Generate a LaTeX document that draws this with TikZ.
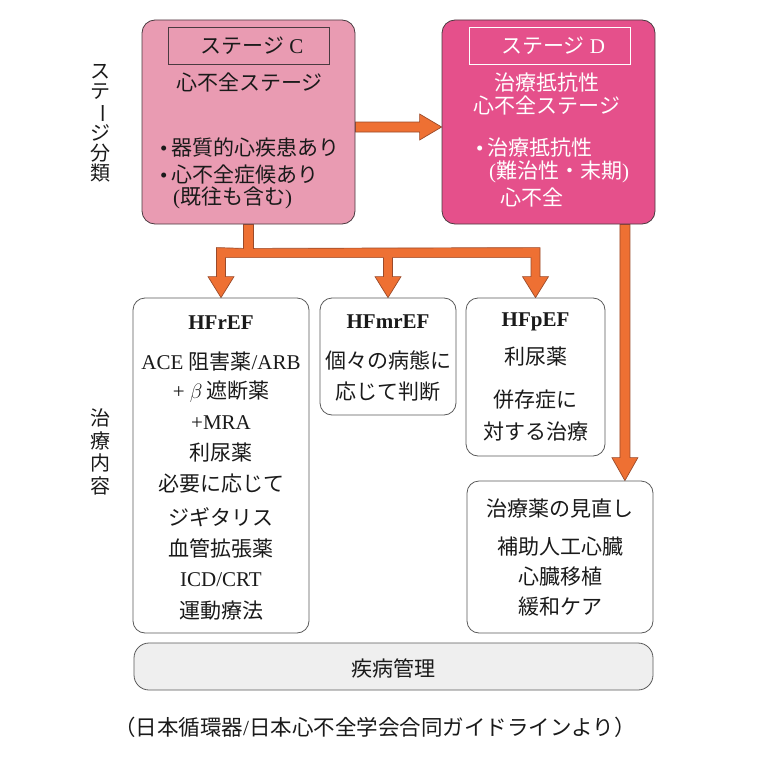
\documentclass[tikz,border=0pt]{standalone}
\usepackage{fontspec}
\setmainfont{Liberation Serif}
\newfontfamily\jp{Noto Sans CJK JP}
\usetikzlibrary{calc}
\definecolor{cpink}{HTML}{E99BB2}
\definecolor{dpink}{HTML}{E5508B}
\definecolor{orng}{HTML}{EE7033}
\definecolor{oline}{HTML}{9A4A2A}
\definecolor{boxline}{HTML}{5A5A5A}
\definecolor{topline}{HTML}{4A3A40}
\definecolor{mgray}{HTML}{EFEFEF}
\definecolor{txtc}{HTML}{1A1A1A}
\pgfdeclarelayer{bg}
\pgfsetlayers{bg,main}
\begin{document}
\begin{tikzpicture}[x=1pt,y=-1pt,
  topbox/.style={draw=topline, line width=0.8pt, rounded corners=13pt, inner sep=0pt},
  hfbox/.style={draw=boxline, fill=white, line width=0.8pt, rounded corners=12pt, inner sep=0pt},
  lblbox/.style={line width=0.8pt, inner sep=0pt, minimum width=161, minimum height=37},
  txt/.style={font=\jp\fontsize{21}{23}\selectfont, text=txtc, inner sep=0pt},
  wtxt/.style={font=\jp\fontsize{21}{23}\selectfont, text=white, inner sep=0pt},
  vtxt/.style={font=\jp\fontsize{20}{20}\selectfont, text=txtc, inner sep=0pt, align=center},
  hf/.style={font=\rmfamily\bfseries\fontsize{21}{23}\selectfont, text=txtc, inner sep=0pt},
  arr/.style={draw=oline, fill=orng, line width=0.7pt, line join=miter}]
\begin{pgfonlayer}{bg}
\fill[white] (0,0) rectangle (760,760);
\end{pgfonlayer}
\useasboundingbox (0,0) rectangle (760,760);

% stage boxes
\node[topbox, fill=cpink, minimum width=213, minimum height=204] (C) at (248.5,122) {};
\node[topbox, fill=dpink, minimum width=213, minimum height=204] (D) at (548.5,122) {};
\node[lblbox, draw=topline] (Cl) at (248.5,45.5) {};
\node[lblbox, draw=white] (Dl) at (549.5,45.5) {};
\node[txt] (Clt) at (252,45.5) {ステージ{\rmfamily\ C}};
\node[wtxt] (Dlt) at (553,45.5) {ステージ{\rmfamily\ D}};
\node[txt] (C1) at (249.5,82) {心不全ステージ};
\node[txt, anchor=west] (C2) at (160,148) {{\rmfamily\textbullet\,}器質的心疾患あり};
\node[txt, anchor=west] (C3) at (160,175) {{\rmfamily\textbullet\,}心不全症候あり};
\node[txt, anchor=west] (C4) at (173,198) {{\rmfamily(}既往も含む{\rmfamily)}};
\node[wtxt] (D1) at (547,83) {治療抵抗性};
\node[wtxt] (D2) at (547,105) {心不全ステージ};
\node[wtxt, anchor=west] (D3) at (476,148) {{\rmfamily\textbullet\,}治療抵抗性};
\node[wtxt, anchor=west] (D4) at (489,172) {{\rmfamily(}難治性・末期{\rmfamily)}};
\node[wtxt, anchor=west] (D5) at (500,197) {心不全};

% left labels
\node[vtxt] (L1) at (100,123) {ス\\テ\\\rotatebox[origin=c]{-90}{ー}\\ジ\\分\\類};
\node[vtxt, font=\jp\fontsize{20}{22.5}\selectfont] (L2) at (100,452) {治\\療\\内\\容};

% treatment boxes
\node[hfbox, minimum width=176, minimum height=335] (HFr) at (221,465.5) {};
\node[hfbox, minimum width=136, minimum height=117] (HFm) at (388,356.5) {};
\node[hfbox, minimum width=139, minimum height=158] (HFp) at (535.5,377) {};
\node[hfbox, minimum width=186, minimum height=152] (T) at (560,557) {};
\node[hfbox, fill=mgray, minimum width=519, minimum height=47, rounded corners=15pt] (M) at (393.5,666.5) {};

\node[hf] (r0) at (221,323) {HFrEF};
\node[txt] (r1) at (221,362) {{\rmfamily ACE }阻害薬{\rmfamily /ARB}};
\node[txt] (r2) at (221,392) {{\rmfamily + }$\beta$\,遮断薬};
\node[txt] (r3) at (221,423) {{\rmfamily +MRA}};
\node[txt] (r4) at (221,453) {利尿薬};
\node[txt] (r5) at (221,484) {必要に応じて};
\node[txt] (r6) at (221,517) {ジギタリス};
\node[txt] (r7) at (221,548) {血管拡張薬};
\node[txt] (r8) at (221,580) {{\rmfamily ICD/CRT}};
\node[txt] (r9) at (221,611) {運動療法};

\node[hf] (m0) at (388,322) {HFmrEF};
\node[txt] (m1) at (388,360) {個々の病態に};
\node[txt] (m2) at (388,392) {応じて判断};

\node[hf] (p0) at (535.5,322) {HFpEF};
\node[txt] (p1) at (535.5,357) {利尿薬};
\node[txt] (p2) at (535.5,400) {併存症に};
\node[txt] (p3) at (535.5,432) {対する治療};

\node[txt] (t1) at (560,508) {治療薬の見直し};
\node[txt] (t2) at (560,547) {補助人工心臓};
\node[txt] (t3) at (560,577) {心臓移植};
\node[txt] (t4) at (560,607) {緩和ケア};

\node[txt] (mt) at (393.5,668) {疾病管理};
\node[txt, font=\jp\fontsize{21.5}{23}\selectfont] (fn) at (375,727) {（日本循環器{\rmfamily /}日本心不全学会合同ガイドラインより）};

% arrows
\coordinate (ce) at ($(C.east)+(0,5)$);
\coordinate (dw) at (D.west |- ce);
\coordinate (ds) at ($(D.south east)+(-30.5,0)$);
\coordinate (dt) at (ds |- T.north);
\begin{pgfonlayer}{bg}
\path[arr] ($(ce)+(0,-5)$) -- ($(dw)+(-22,-5)$) -- ($(dw)+(-22,-13)$) -- (dw)
  -- ($(dw)+(-22,13)$) -- ($(dw)+(-22,5)$) -- ($(ce)+(0,5)$) -- cycle;
\path[arr] ($(ds)+(-5,0)$) -- ($(dt)+(-5,-23)$) -- ($(dt)+(-13,-23)$) -- (dt)
  -- ($(dt)+(13,-23)$) -- ($(dt)+(5,-23)$) -- ($(ds)+(5,0)$) -- cycle;
\path[arr] ($(C.south)+(-5,0)$) -- ($(C.south)+(-5,24)$)
  -- ($(HFr.north)+(-4.5,-50)$) -- ($(HFr.north)+(-4.5,-21)$) -- ($(HFr.north)+(-13,-21)$)
  -- (HFr.north) -- ($(HFr.north)+(13,-21)$) -- ($(HFr.north)+(4.5,-21)$) -- ($(HFr.north)+(4.5,-40)$)
  -- ($(HFm.north)+(-4.5,-40)$) -- ($(HFm.north)+(-4.5,-21)$) -- ($(HFm.north)+(-13,-21)$)
  -- (HFm.north) -- ($(HFm.north)+(13,-21)$) -- ($(HFm.north)+(4.5,-21)$) -- ($(HFm.north)+(4.5,-40)$)
  -- ($(HFp.north)+(-4.5,-40)$) -- ($(HFp.north)+(-4.5,-21)$) -- ($(HFp.north)+(-13,-21)$)
  -- (HFp.north) -- ($(HFp.north)+(13,-21)$) -- ($(HFp.north)+(4.5,-21)$) -- ($(HFp.north)+(4.5,-50)$)
  -- ($(C.south)+(5,24)$) -- ($(C.south)+(5,0)$) -- cycle;
\end{pgfonlayer}
\end{tikzpicture}
\end{document}
